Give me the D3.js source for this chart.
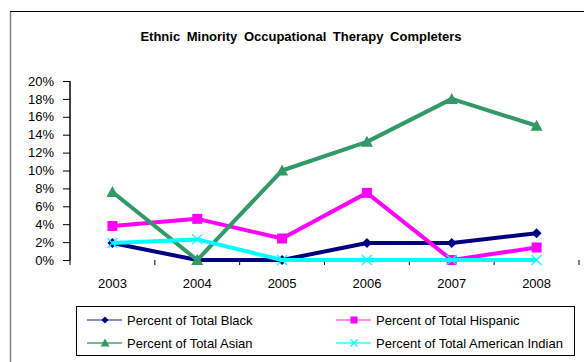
<!DOCTYPE html>
<html><head><meta charset="utf-8">
<script src="https://cdn.jsdelivr.net/npm/d3@7"></script>
<style>body{margin:0;background:#fff}svg{display:block;font-family:Arial,"Liberation Sans",sans-serif}</style>
</head><body><svg id="c" width="584" height="362"></svg>
<script>
const title = "Ethnic Minority Occupational Therapy Completers";
const years = ["2003","2004","2005","2006","2007","2008"];
const yTicks = [0,2,4,6,8,10,12,14,16,18,20];
const black = [1.9, 0, 0, 1.9, 1.9, 3.0];
const hispanic = [3.8, 4.6, 2.4, 7.5, 0, 1.4];
const asian = [7.6, 0, 10.0, 13.2, 18.0, 15.0];
const amIndian = [1.9, 2.3, 0, 0, 0, 0];
const seriesNames = ["Percent of Total Black","Percent of Total Hispanic","Percent of Total Asian","Percent of Total American Indian"];
const seriesColors = ["#000080","#FF00FF","#339966","#00FFFF"];
const legendColors = ["#6666B3","#FF66FF","#47A375","#33FFFF"];
const seriesShapes = ["diamond","square","triangle","x"];
const seriesValues = [black, hispanic, asian, amIndian];

const svg = d3.select("#c");
// outer frame
svg.append("line").attr("x1",10.5).attr("x2",10.5).attr("y1",11.5).attr("y2",362).attr("stroke","#808080").attr("stroke-width",1.5);
svg.append("line").attr("x1",10).attr("x2",584).attr("y1",11.5).attr("y2",11.5).attr("stroke","#000").attr("stroke-width",1);

svg.append("text").attr("x",301).attr("y",41).attr("text-anchor","middle")
  .attr("font-size",13).attr("font-weight","bold").attr("word-spacing",3).text(title);

const x = d3.scaleBand().domain(years).range([70,579]);
const y = d3.scaleLinear().domain([0,20]).range([260,81]);

const gy = svg.append("g").attr("transform","translate(70,0)")
  .call(d3.axisLeft(y).tickValues(yTicks).tickFormat(d=>d+"%").tickSize(6).tickPadding(10));
const gx = svg.append("g").attr("transform","translate(0,260)")
  .call(d3.axisBottom(x).tickSize(0).tickPadding(19));
// x ticks at band boundaries
const bounds = years.map(d=>x(d)).concat([x.range()[1]]);
svg.append("g").selectAll("line").data(bounds).join("line")
  .attr("x1",d=>d).attr("x2",d=>d).attr("y1",260).attr("y2",265).attr("stroke","#000");
[gx,gy].forEach(g=>{g.selectAll("path.domain").attr("stroke","#000").attr("stroke-width",1.5);
  g.selectAll("text").attr("font-size",13).attr("fill","#000").attr("font-family","Arial, 'Liberation Sans', sans-serif");});
gy.select("path.domain").attr("d","M0,81V260");
gx.select("path.domain").attr("d","M70,260H579");
gy.selectAll(".tick line").attr("x1",-7).attr("x2",0);

function marker(g, shape, color, s){
  if(shape==="diamond") g.append("path").attr("d",`M0,${-s}L${s},0L0,${s}L${-s},0Z`).attr("fill",color);
  else if(shape==="square") g.append("rect").attr("x",-s).attr("y",-s).attr("width",2*s).attr("height",2*s).attr("fill",color);
  else if(shape==="triangle") g.append("path").attr("d",`M0,${-s-1}L${s+1},${s}L${-s-1},${s}Z`).attr("fill",color);
  else g.append("path").attr("d",`M${-s},${-s}L${s},${s}M${-s},${s}L${s},${-s}`).attr("stroke",color).attr("stroke-width",1.2).attr("fill","none");
}

const line = d3.line().x((d,i)=>x(years[i])+x.bandwidth()/2).y(d=>y(d));
seriesValues.forEach((vals,k)=>{
  svg.append("path").attr("d",line(vals)).attr("fill","none").attr("stroke",seriesColors[k])
    .attr("stroke-width",4).attr("stroke-linejoin","round");
  vals.forEach((v,i)=>{
    const g = svg.append("g").attr("transform",`translate(${x(years[i])+x.bandwidth()/2},${y(v)})`);
    marker(g, seriesShapes[k], seriesColors[k], 5);
  });
});

// legend
svg.append("rect").attr("x",76.5).attr("y",306.5).attr("width",498).attr("height",49)
  .attr("fill","#fff").attr("stroke","#000").attr("stroke-width",1);
const legPos = [[87,320],[336,320],[87,343],[336,343]];
seriesNames.forEach((n,k)=>{
  const [lx,ly] = legPos[k];
  svg.append("line").attr("x1",lx).attr("x2",lx+35).attr("y1",ly).attr("y2",ly).attr("stroke",legendColors[k]).attr("stroke-width",1.5);
  const g = svg.append("g").attr("transform",`translate(${lx+18},${ly})`);
  marker(g, seriesShapes[k], seriesColors[k], 3.5);
  svg.append("text").attr("x",lx+40).attr("y",ly+4.5).attr("font-size",13).text(n);
});
</script></body></html>
